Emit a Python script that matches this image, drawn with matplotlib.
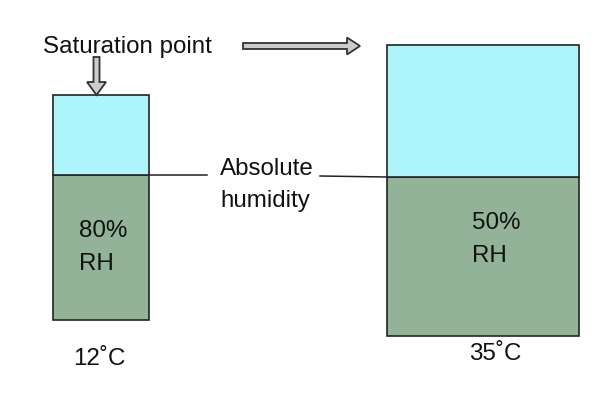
import matplotlib.pyplot as plt
from matplotlib.patches import FancyArrow

# values (pixel-like units)
temps = ['12˚C', '35˚C']
rh_labels = ['80%', '50%']
absolute_humidity = [145, 159]   # green part
saturation = [225, 291]          # full box height

cyan = '#adf5fb'
green = '#93b398'
edge = '#222222'

fig = plt.figure(figsize=(6, 4), dpi=100)
ax = fig.add_axes([0, 0, 1, 1])
ax.set_xlim(0, 600)
ax.set_ylim(0, 400)
ax.axis('off')

xs = [101, 483]
widths = [96, 192]
bottoms = [80, 64]

# boxes: absolute humidity (green) and room up to saturation (cyan)
ax.bar(xs, absolute_humidity, width=widths, bottom=bottoms,
       color=green, edgecolor=edge, linewidth=1.2)
top_part = [s - a for s, a in zip(saturation, absolute_humidity)]
ax.bar(xs, top_part, width=widths,
       bottom=[b + a for b, a in zip(bottoms, absolute_humidity)],
       color=cyan, edgecolor=edge, linewidth=1.2)

font = dict(family='Liberation Sans', fontsize=17.4, color='#111111')

# labels inside / under the boxes
ax.text(79, 163, rh_labels[0], **font)
ax.text(79, 130, 'RH', **font)
ax.text(472, 171, rh_labels[1], **font)
ax.text(472, 138, 'RH', **font)
ax.text(73, 35, temps[0], **font)
ax.text(469, 40, temps[1], **font)

# absolute humidity lines
ax.plot([149, 207], [225, 225], color=edge, lw=1.1)
ax.plot([320, 387], [224, 223], color=edge, lw=1.1)
ax.text(220, 225, 'Absolute', **font)
ax.text(220, 193, 'humidity', **font)

# saturation point and arrows
ax.text(43, 347, 'Saturation point', **font)
ax.add_patch(FancyArrow(96.5, 343, 0, -38, width=6, head_width=19,
                        head_length=13, length_includes_head=True,
                        facecolor='#cccccc', edgecolor='#333333', lw=1.3))
ax.add_patch(FancyArrow(243, 354, 117, 0, width=6, head_width=17,
                        head_length=13, length_includes_head=True,
                        facecolor='#cccccc', edgecolor='#333333', lw=1.3))

fig.savefig('out.png', dpi=100)
